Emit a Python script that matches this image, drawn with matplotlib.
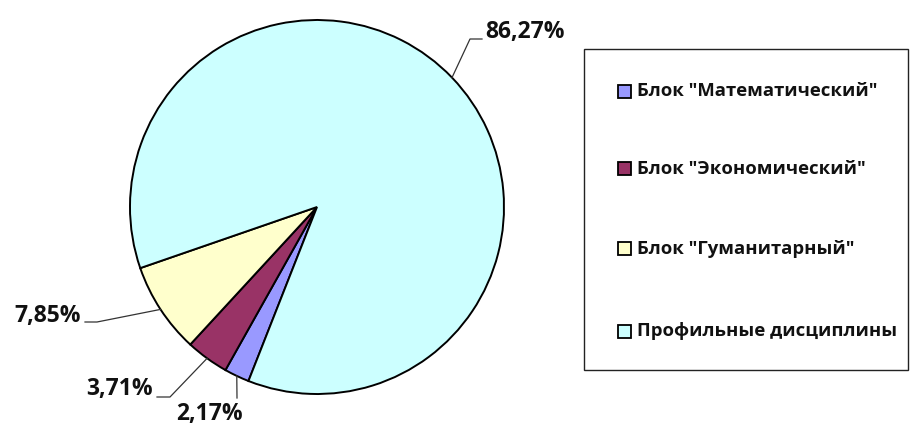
import numpy as np
import matplotlib
matplotlib.use("Agg")
import matplotlib.pyplot as plt
from matplotlib.patches import Rectangle

categories = ['Блок "Математический"', 'Блок "Экономический"', 'Блок "Гуманитарный"', 'Профильные дисциплины']
values = [2.17, 3.71, 7.85, 86.27]
value_labels = ['2,17%', '3,71%', '7,85%', '86,27%']
colors = ['#9999FF', '#993366', '#FFFFCC', '#CCFFFF']

W, H = 920, 426
fig = plt.figure(figsize=(W / 100, H / 100), dpi=100)
ax = fig.add_axes([0, 0, 1, 1])

cx, cy, r = 317, H - 207, 187
wedges, _ = ax.pie(values, colors=colors, startangle=248.5, counterclock=False,
                   center=(cx, cy), radius=r, frame=True,
                   wedgeprops=dict(edgecolor='black', linewidth=1.4))
ax.set_xlim(0, W)
ax.set_ylim(0, H)
ax.set_aspect('equal')
ax.axis('off')

font = dict(family=['Open Sans', 'DejaVu Sans'], fontweight='bold', color='#111111')

# label layout: (text x, text y, ha, leader path knee points)
layout = [
    dict(tx=209, ty=414, ha='center', knees=[(237, 398)]),
    dict(tx=153, ty=389, ha='right', knees=[(170, 397), (157, 397)]),
    dict(tx=81, ty=316, ha='right', knees=[(97, 322), (85, 322)]),
    dict(tx=485, ty=32, ha='left', knees=[(470, 39), (482, 39)]),
]
for w, lab, lay in zip(wedges, value_labels, layout):
    mid = np.deg2rad((w.theta1 + w.theta2) / 2)
    px, py = cx + r * np.cos(mid), cy + r * np.sin(mid)
    xs = [px] + [k[0] for k in lay['knees']]
    ys = [py] + [H - k[1] for k in lay['knees']]
    ax.plot(xs, ys, color='#333333', lw=0.9)
    ax.text(lay['tx'], H - lay['ty'], lab, ha=lay['ha'], va='center', fontsize=16.5, **font)

# legend
ax.add_patch(Rectangle((584, H - 370), 324, 321, fill=False, edgecolor='#222222', lw=1.0))
ys = [91, 169, 249, 331]
for cat, col, y in zip(categories, colors, ys):
    ax.add_patch(Rectangle((618, H - y - 6.5), 13, 13, facecolor=col, edgecolor='black', lw=1.3))
    ax.text(637, H - y, cat, ha='left', va='center', fontsize=13.3, **font)

fig.savefig('out.png', dpi=100)
